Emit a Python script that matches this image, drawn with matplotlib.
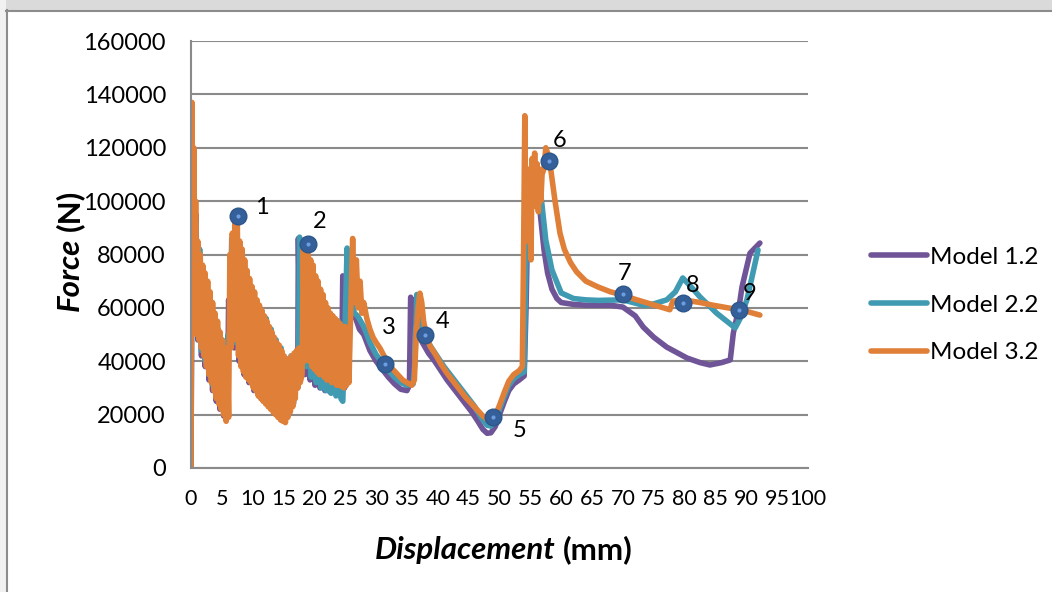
import numpy as np
import matplotlib
matplotlib.use("Agg")
import matplotlib.pyplot as plt
from matplotlib.patches import Rectangle
from matplotlib.lines import Line2D

plt.rcParams['font.family'] = ['Lato', 'DejaVu Sans']

# Model 1.2  (displacement mm, force N)
m1_x = [0.0, 0.2, 0.5, 0.8, 1.1, 1.4, 1.7, 2.0, 2.3, 2.6, 2.9, 3.2, 3.5, 3.8, 4.1, 4.4, 4.7, 5.0, 5.3, 5.6,
        5.9, 6.1, 6.4, 6.7, 7.0, 7.4, 7.8, 8.2, 8.6, 9.0, 9.4, 9.8, 10.2, 10.6, 11.0, 11.4, 11.8, 12.2, 12.6, 13.0,
        13.4, 13.8, 14.2, 14.6, 15.0, 15.4, 15.8, 16.2, 16.6, 17.0, 17.3, 17.4, 17.7, 18.1, 18.5, 18.9, 19.3, 19.7, 20.1, 20.5,
        20.9, 21.3, 21.7, 22.1, 22.5, 22.9, 23.3, 23.7, 24.1, 24.5, 24.6, 24.9, 25.3, 25.7, 26.2, 26.7, 27.3, 28.0, 29.0, 30.0,
        31.0, 32.0, 33.0, 34.0, 35.0, 35.4, 35.6, 35.9, 36.3, 36.8, 37.5, 38.5, 39.5, 40.5, 41.5, 42.5, 43.5, 44.5, 45.5, 46.5,
        47.3, 48.0, 48.6, 49.3, 50.0, 50.8, 51.5, 52.3, 53.2, 54.0, 54.3, 54.6, 55.0, 55.5, 56.0, 56.6, 57.2, 57.8, 58.5, 59.3,
        60.0, 62.0, 64.0, 66.0, 68.0, 70.0, 72.0, 73.3, 75.0, 77.1, 80.4, 82.5, 84.1, 86.0, 87.4, 87.9, 88.8, 89.3, 90.6, 92.2]
m1_y = [0, 110000, 55000, 95000, 48000, 80000, 42000, 72000, 38000, 66000, 33000, 60000, 29000, 55000, 25000, 50000, 22000, 46000, 19500, 44000,
        20000, 63000, 45000, 85000, 45000, 90000, 40000, 80000, 35000, 72000, 32000, 66000, 29000, 62000, 27000, 58000, 25000, 55000, 23000, 51000,
        21000, 47000, 19000, 44000, 18000, 40000, 20000, 41000, 24000, 42000, 30000, 86000, 40000, 80000, 35000, 75000, 33000, 70000, 31000, 66000,
        30000, 62000, 29000, 59000, 28500, 57000, 28000, 55000, 27500, 54000, 72000, 30000, 60000, 55000, 58000, 56000, 52000, 50000, 44000, 40000,
        37000, 34000, 31500, 29500, 29000, 31000, 64000, 62000, 55000, 50000, 47000, 43000, 40000, 36500, 33000, 30000, 27000, 24000, 21000, 17500,
        14500, 13000, 13200, 15500, 20000, 25000, 29000, 31500, 33000, 34500, 60000, 95000, 100000, 98000, 100000, 95500, 82000, 73000, 67000, 63500,
        62000, 61300, 61000, 61000, 61000, 60300, 57000, 52800, 49000, 45300, 41200, 39500, 38600, 39500, 40500, 50600, 60000, 67800, 80500, 84300]

# Model 2.2
m2_x = [0.0, 0.2, 0.5, 0.8, 1.1, 1.4, 1.7, 2.0, 2.3, 2.6, 2.9, 3.2, 3.5, 3.8, 4.1, 4.4, 4.7, 5.0, 5.3, 5.6,
        5.9, 6.0, 6.3, 6.6, 7.0, 7.4, 7.8, 8.2, 8.6, 9.0, 9.4, 9.8, 10.2, 10.6, 11.0, 11.4, 11.8, 12.2, 12.6, 13.0,
        13.4, 13.8, 14.2, 14.6, 15.0, 15.4, 15.8, 16.2, 16.6, 17.0, 17.4, 17.6, 17.9, 18.3, 18.7, 19.1, 19.5, 19.9, 20.3, 20.7,
        21.1, 21.5, 21.9, 22.3, 22.7, 23.1, 23.5, 23.9, 24.3, 24.6, 25.0, 25.3, 25.6, 26.0, 26.5, 27.0, 28.0, 29.0, 30.0, 31.0,
        32.0, 33.0, 34.0, 35.0, 36.0, 36.3, 36.6, 36.9, 37.4, 38.0, 39.0, 40.0, 41.0, 42.0, 43.0, 44.0, 45.0, 46.0, 47.0, 48.0,
        48.6, 49.3, 50.0, 50.8, 51.5, 52.3, 53.2, 54.0, 54.3, 54.6, 55.0, 55.5, 56.0, 56.8, 57.5, 58.5, 60.0, 62.0, 64.0, 66.0,
        70.0, 73.3, 75.0, 77.1, 78.5, 79.7, 81.0, 82.5, 85.2, 88.2, 89.0, 90.1, 91.9]
m2_y = [0, 115000, 58000, 92000, 50000, 82000, 44000, 74000, 40000, 68000, 35000, 62000, 31000, 57000, 27000, 52000, 24000, 48000, 21000, 45000,
        22000, 50000, 46000, 86000, 47000, 91000, 42000, 81000, 37000, 73000, 33000, 67000, 30000, 63000, 28000, 59000, 26000, 56000, 24000, 52000,
        22000, 48000, 20000, 45000, 19000, 41000, 21000, 42000, 25000, 43000, 33000, 86500, 42000, 82000, 38000, 76000, 34000, 70000, 32000, 65000,
        30000, 61000, 29000, 58000, 28000, 56000, 27000, 55000, 26000, 25000, 56000, 82400, 55000, 62000, 58000, 57000, 53000, 47000, 42500, 39500,
        36500, 34000, 32000, 31000, 31500, 40000, 65000, 60000, 52000, 48500, 45000, 41500, 38000, 35000, 32000, 29000, 26000, 23000, 19000, 16000,
        15700, 17500, 22000, 27000, 31000, 33500, 35000, 36000, 80000, 100000, 98000, 102000, 99000, 100400, 85400, 74200, 65600, 63500, 63000, 62800,
        63000, 61000, 61500, 63000, 66000, 71200, 68000, 64100, 58000, 52500, 56000, 63000, 81700]

# Model 3.2
m3_x = [0.0, 0.15, 0.3, 0.45, 0.6, 0.75, 0.9, 1.1, 1.3, 1.5, 1.7, 1.9, 2.1, 2.3, 2.5, 2.7, 2.9, 3.1, 3.3, 3.5,
        3.7, 3.9, 4.1, 4.3, 4.5, 4.7, 4.9, 5.1, 5.3, 5.5, 5.7, 5.9, 6.1, 6.3, 6.5, 6.7, 6.9, 7.1, 7.3, 7.5,
        7.7, 7.9, 8.1, 8.3, 8.5, 8.7, 8.9, 9.1, 9.3, 9.5, 9.7, 9.9, 10.1, 10.3, 10.5, 10.7, 10.9, 11.1, 11.3, 11.5,
        11.7, 11.9, 12.1, 12.3, 12.5, 12.7, 12.9, 13.1, 13.3, 13.5, 13.7, 13.9, 14.1, 14.3, 14.5, 14.7, 14.9, 15.1, 15.3, 15.5,
        15.7, 15.9, 16.1, 16.3, 16.5, 16.7, 16.9, 17.1, 17.3, 17.5, 17.7, 18.0, 18.2, 18.4, 18.6, 18.8, 19.0, 19.2, 19.4, 19.6,
        19.8, 20.0, 20.2, 20.4, 20.6, 20.8, 21.0, 21.2, 21.4, 21.6, 21.8, 22.0, 22.2, 22.4, 22.6, 22.8, 23.0, 23.2, 23.4, 23.6,
        23.8, 24.0, 24.2, 24.4, 24.6, 24.8, 25.0, 25.2, 25.4, 25.6, 25.9, 26.2, 26.5, 26.8, 27.1, 27.4, 27.7, 28.0, 28.5, 29.0,
        29.5, 30.0, 30.6, 31.4, 32.0, 32.7, 33.5, 34.3, 35.0, 35.8, 36.2, 36.5, 36.8, 37.1, 37.4, 37.7, 38.2, 38.8, 39.5, 40.5,
        41.5, 42.5, 43.5, 44.5, 45.5, 46.5, 47.3, 48.0, 48.7, 49.3, 50.0, 50.8, 51.5, 52.3, 53.2, 53.7, 53.9, 54.1, 54.3, 54.6,
        54.9, 55.1, 55.3, 55.5, 55.7, 55.9, 56.1, 56.3, 56.5, 56.7, 56.9, 57.2, 57.5, 57.8, 58.3, 59.0, 59.8, 60.5, 61.5, 62.5,
        64.0, 66.0, 68.0, 70.0, 72.0, 74.0, 76.0, 77.6, 78.1, 79.0, 80.4, 82.5, 84.6, 87.0, 89.0, 90.5, 92.2]
m3_y = [0, 137000, 60000, 120000, 55000, 100000, 50000, 85000, 48000, 80000, 45000, 76000, 42000, 73000, 38000, 70000, 35000, 66000, 32000, 62000,
        29000, 58000, 26000, 55000, 24000, 51000, 22000, 48000, 20000, 45000, 17500, 42000, 19000, 80000, 45000, 88000, 48000, 92000, 50000, 94000,
        42000, 85000, 38000, 82000, 36000, 78000, 34000, 74000, 33000, 71000, 32000, 68000, 30000, 66000, 29000, 63000, 27000, 61000, 26000, 59000,
        25000, 57000, 24000, 55000, 23000, 53000, 22000, 51000, 21000, 49000, 20000, 47000, 19000, 46000, 18000, 44000, 17500, 42000, 17000, 40000,
        19000, 41000, 21000, 42000, 23000, 43000, 26000, 44000, 30000, 45000, 32000, 35000, 82000, 40000, 84000, 42000, 80000, 40000, 78000, 38000,
        76000, 37000, 72000, 36000, 70000, 35000, 67000, 35000, 65000, 34000, 62000, 33000, 60000, 33000, 58000, 32000, 57000, 32000, 56000, 31000,
        55000, 31000, 54000, 30500, 53000, 30000, 53000, 31000, 52000, 32000, 60000, 86000, 62000, 78000, 60000, 70000, 58000, 62000, 56000, 52000,
        49000, 47000, 45000, 41500, 39000, 37000, 35000, 33000, 32000, 31000, 33000, 50000, 60000, 65500, 62000, 55000, 49000, 45500, 43000, 39000,
        35500, 32500, 29500, 26500, 24000, 21500, 19500, 18300, 18200, 19500, 23500, 28500, 32500, 35000, 36500, 38000, 80000, 132000, 85000, 112000,
        95000, 78000, 116000, 100000, 118000, 98000, 114000, 96000, 112000, 100000, 110000, 112000, 120000, 118000, 112000, 100000, 88000, 82000, 77000, 73500,
        70000, 67800, 66000, 64800, 63200, 61800, 60400, 59300, 62500, 62800, 62800, 62000, 61000, 60000, 59200, 58400, 57300]

series_names = ['Model 1.2', 'Model 2.2', 'Model 3.2']
series_colors = ['#6f5597', '#3f9ab2', '#e07f38']

# numbered points
point_labels = ['1', '2', '3', '4', '5', '6', '7', '8', '9']
point_x = [7.6, 18.9, 31.4, 37.9, 48.9, 58.0, 70.0, 79.7, 88.8]
point_y = [94400, 84000, 39000, 49800, 19100, 115000, 65200, 61800, 59200]
label_offsets = [(17, 6), (9, 16), (3, 26), (13, 10), (19, -10), (8, 15), (1, 15), (7, 13), (8, 12)]

fig = plt.figure(figsize=(10.52, 5.92), dpi=100)
fig.patch.set_facecolor('white')

# grey frame around the chart area
fig.add_artist(Rectangle((0, 1 - 10 / 592), 1, 10 / 592, transform=fig.transFigure,
                         facecolor='#dadada', edgecolor='none'))
fig.add_artist(Rectangle((0, 0), 6 / 1052, 1, transform=fig.transFigure,
                         facecolor='#f1f1f1', edgecolor='none'))
fig.add_artist(Line2D([6.5 / 1052, 6.5 / 1052], [0, 1 - 10 / 592], transform=fig.transFigure,
                      color='#8c8c8c', lw=1.5))
fig.add_artist(Line2D([6 / 1052, 1], [1 - 10.5 / 592, 1 - 10.5 / 592], transform=fig.transFigure,
                      color='#8c8c8c', lw=1.5))

ax = fig.add_axes([191 / 1052, 124 / 592, 617 / 1052, 427 / 592])
ax.set_facecolor('none')

for xs, ys, name, col in zip([m1_x, m2_x, m3_x], [m1_y, m2_y, m3_y], series_names, series_colors):
    ax.plot(xs, ys, color=col, lw=4.0, label=name, solid_joinstyle='round', solid_capstyle='round')

ax.plot(point_x, point_y, 'o', ms=12, mfc='#345f98', mec='#2d578c', mew=1, zorder=5)
ax.plot(point_x, point_y, 'o', ms=3, mfc='#6b9de0', mec='none', zorder=6)
for lab, px, py, off in zip(point_labels, point_x, point_y, label_offsets):
    ax.annotate(lab, (px, py), xytext=off, textcoords='offset points', fontsize=17,
                ha='center', va='center', color='black', zorder=7)

ax.set_xlim(0, 100)
ax.set_ylim(0, 160000)
ax.set_xticks(np.arange(0, 101, 5))
ax.set_yticks(np.arange(0, 160001, 20000))
ax.yaxis.grid(True, color='#8a8a8a', lw=1.5)
ax.set_axisbelow(True)
for s in ['top', 'right']:
    ax.spines[s].set_visible(False)
for s in ['left', 'bottom']:
    ax.spines[s].set_color('#8a8a8a')
    ax.spines[s].set_linewidth(1.5)
ax.tick_params(axis='both', length=0)
ax.tick_params(axis='y', pad=18, labelsize=17)
ax.tick_params(axis='x', pad=15, labelsize=15.5)

# axis titles: italic bold word + bold unit
fig.text(556 / 1052, 1 - 550 / 592, 'Displacement', fontsize=22.5, fontweight='bold', fontstyle='italic',
         ha='right', va='center')
fig.text(563 / 1052, 1 - 550 / 592, '(mm)', fontsize=22.5, fontweight='bold', ha='left', va='center')
fig.text(70 / 1052, 1 - 238 / 592, 'Force', fontsize=22.5, fontweight='bold', fontstyle='italic',
         rotation=90, ha='center', va='top')
fig.text(70 / 1052, 1 - 231 / 592, '(N)', fontsize=22.5, fontweight='bold',
         rotation=90, ha='center', va='bottom')

ax.legend(loc='center left', bbox_to_anchor=(849 / 1052, 1 - 305 / 592), bbox_transform=fig.transFigure,
          frameon=False, fontsize=17.5, handlelength=2.3, handletextpad=0.13, labelspacing=1.1)

fig.savefig('out.png', dpi=100)
